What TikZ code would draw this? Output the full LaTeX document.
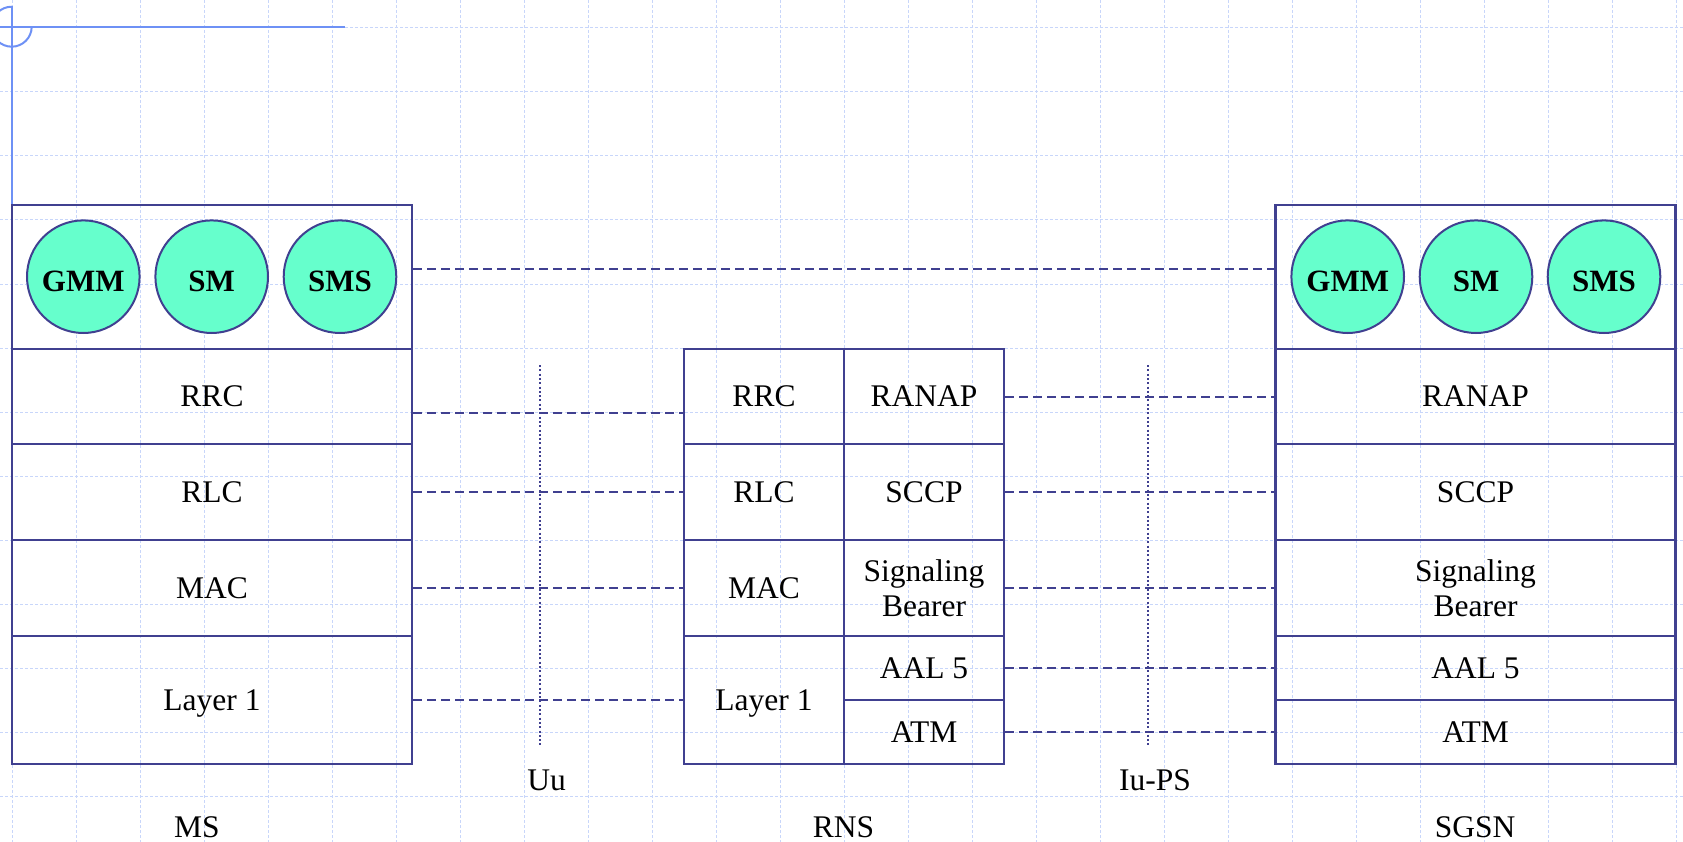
\documentclass[tikz,border=0pt]{standalone}
\usepackage{fontspec}
\setmainfont{Liberation Serif}
\definecolor{navy}{RGB}{64,64,144}
\definecolor{gridc}{RGB}{200,214,250}
\definecolor{deco}{RGB}{110,145,245}
\definecolor{aqua}{RGB}{102,255,204}
\tikzset{
  cell/.style={draw=navy, line width=2.5pt, inner sep=0pt, align=center, font=\fontsize{31.5}{35}\selectfont},
  proto/.style={circle, draw=navy, line width=2pt, fill=aqua, minimum size=112.6pt, inner sep=0pt, text height=29pt, text depth=0pt, font=\fontsize{31}{35}\selectfont\bfseries},
  peer/.style={draw=navy, line width=2pt, dash pattern=on 9pt off 5pt},
  iface/.style={draw=navy, line width=2pt, dash pattern=on 2pt off 2.3pt},
  lbl/.style={inner sep=0pt, font=\fontsize{31.5}{35}\selectfont},
  gridline/.style={draw=gridc, line width=1pt, dash pattern=on 3pt off 2pt}
}
\begin{document}
\begin{tikzpicture}[x=1pt,y=-1pt]
\useasboundingbox (0,0) rectangle (1683,842);
% background grid
\foreach \k in {0,...,26} {\draw[gridline] (12.7+64*\k,0) -- (12.7+64*\k,842);}
\foreach \k in {0,...,12} {\draw[gridline] (0,28+64*\k) -- (1683,28+64*\k);}
% corner decoration
\draw[deco, line width=2pt] (0,26.7) -- (345,26.7);
\draw[deco, line width=2pt] (11.7,6) -- (11.7,204);
\draw[deco, line width=2pt] (11.7,6.7) arc[start angle=90, end angle=360, radius=20pt];

% MS stack
\node[cell, minimum width=400pt, minimum height=144pt] (ms-top) at (212,277) {};
\node[cell, minimum width=400pt, minimum height=95pt] (ms-rrc) at (212,396.5) {RRC};
\node[cell, minimum width=400pt, minimum height=96pt] (ms-rlc) at (212,492) {RLC};
\node[cell, minimum width=400pt, minimum height=96pt] (ms-mac) at (212,588) {MAC};
\node[cell, minimum width=400pt, minimum height=128pt] (ms-l1) at (212,700) {La\smash{y}er 1};
\node[proto] (ms-gmm) at (83.3,276.7) {GMM};
\node[proto] (ms-sm) at (211.7,276.7) {SM};
\node[proto] (ms-sms) at (340,276.7) {SMS};

% RNS stack
\node[cell, minimum width=160pt, minimum height=95pt] (rns-rrc) at (764,396.5) {RRC};
\node[cell, minimum width=160pt, minimum height=96pt] (rns-rlc) at (764,492) {RLC};
\node[cell, minimum width=160pt, minimum height=96pt] (rns-mac) at (764,588) {MAC};
\node[cell, minimum width=160pt, minimum height=128pt] (rns-l1) at (764,700) {La\smash{y}er 1};
\node[cell, minimum width=160pt, minimum height=95pt] (rns-ranap) at (924,396.5) {RANAP};
\node[cell, minimum width=160pt, minimum height=96pt] (rns-sccp) at (924,492) {SCCP};
\node[cell, minimum width=160pt, minimum height=96pt] (rns-sb) at (924,588) {Signaling\\Bearer};
\node[cell, minimum width=160pt, minimum height=64pt] (rns-aal) at (924,668) {AAL 5};
\node[cell, minimum width=160pt, minimum height=64pt] (rns-atm) at (924,732) {ATM};

% SGSN stack
\node[cell, minimum width=400pt, minimum height=144pt] (sg-top) at (1475.5,277) {};
\node[cell, minimum width=400pt, minimum height=95pt] (sg-ranap) at (1475.5,396.5) {RANAP};
\node[cell, minimum width=400pt, minimum height=96pt] (sg-sccp) at (1475.5,492) {SCCP};
\node[cell, minimum width=400pt, minimum height=96pt] (sg-sb) at (1475.5,588) {Signaling\\Bearer};
\node[cell, minimum width=400pt, minimum height=64pt] (sg-aal) at (1475.5,668) {AAL 5};
\node[cell, minimum width=400pt, minimum height=64pt] (sg-atm) at (1475.5,732) {ATM};
\node[proto] (sg-gmm) at (1347.7,276.7) {GMM};
\node[proto] (sg-sm) at (1476,276.7) {SM};
\node[proto] (sg-sms) at (1604,276.7) {SMS};

% peer-to-peer dashed links
\draw[peer] ([yshift=8pt]ms-top.east) -- ([yshift=8pt]sg-top.west);
\draw[peer] ([yshift=-16pt]ms-rrc.east) -- ([yshift=-16pt]rns-rrc.west);
\draw[peer] (ms-rlc.east) -- (rns-rlc.west);
\draw[peer] (ms-mac.east) -- (rns-mac.west);
\draw[peer] (ms-l1.east) -- (rns-l1.west);
\draw[peer] (rns-ranap.east) -- (sg-ranap.west);
\draw[peer] (rns-sccp.east) -- (sg-sccp.west);
\draw[peer] (rns-sb.east) -- (sg-sb.west);
\draw[peer] (rns-aal.east) -- (sg-aal.west);
\draw[peer] (rns-atm.east) -- (sg-atm.west);

% interfaces
\coordinate (uu-top) at (540,365);
\coordinate (uu-bot) at (540,747);
\coordinate (iu-top) at (1147.7,365);
\coordinate (iu-bot) at (1147.7,747);
\draw[iface] (uu-top) -- (uu-bot);
\draw[iface] (iu-top) -- (iu-bot);
\node[lbl] (uu) at (546.5,780) {Uu};
\node[lbl] (iu) at (1155,780) {Iu-PS};

% entity labels
\node[lbl] (ms) at (197,827) {MS};
\node[lbl] (rns) at (843.6,827) {RNS};
\node[lbl] (sgsn) at (1475,827) {SGSN};
\end{tikzpicture}
\end{document}
